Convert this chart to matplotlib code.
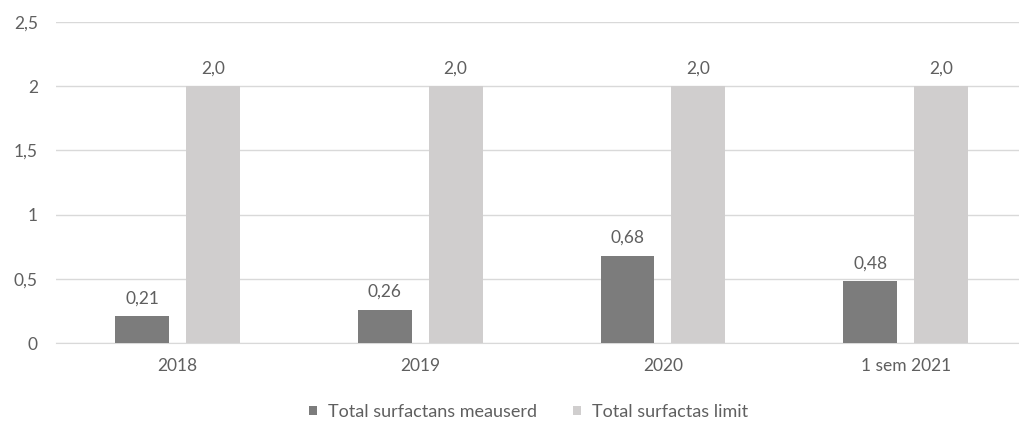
import matplotlib
matplotlib.use("Agg")
import matplotlib.pyplot as plt
import numpy as np

categories = ["2018", "2019", "2020", "1 sem 2021"]
measured = [0.21, 0.26, 0.68, 0.48]
limit = [2.0, 2.0, 2.0, 2.0]
series_names = ["Total surfactans meauserd", "Total surfactas limit"]
y_ticks = [0, 0.5, 1, 1.5, 2, 2.5]
y_tick_labels = ["0", "0,5", "1", "1,5", "2", "2,5"]

plt.rcParams["font.family"] = ["Lato", "DejaVu Sans"]
text_color = "#5f5f5f"

fig = plt.figure(figsize=(10.19, 4.23), dpi=100)
# the plot area runs a little past the right edge of the canvas
ax = fig.add_axes([0.055, 0.189, 0.953, 0.759])

x = np.arange(len(categories))
width = 0.222
offset = 0.146
dark = "#7c7c7c"
light = "#d0cece"

b1 = ax.bar(x - offset, measured, width, color=dark, label=series_names[0], zorder=3)
b2 = ax.bar(x + offset, limit, width, color=light, label=series_names[1], zorder=3)

for bars, vals, fmt in ((b1, measured, "{:.2f}"), (b2, limit, "{:.1f}")):
    for rect, v in zip(bars, vals):
        ax.annotate(fmt.format(v).replace(".", ","),
                    xy=(rect.get_x() + rect.get_width() / 2, v),
                    xytext=(0, 7), textcoords="offset points",
                    ha="center", va="bottom", fontsize=12.5, color=text_color)

ax.set_xlim(-0.5, len(categories) - 0.5)
ax.set_ylim(0, 2.5)
ax.set_yticks(y_ticks)
ax.set_yticklabels(y_tick_labels)
ax.set_xticks(x)
ax.set_xticklabels(categories)
ax.tick_params(axis="both", length=0, labelsize=12.5, labelcolor=text_color)
ax.tick_params(axis="x", pad=11)
ax.tick_params(axis="y", pad=13)

ax.yaxis.grid(True, color="#d9d9d9", linewidth=1, zorder=0)
for s in ("top", "right", "left"):
    ax.spines[s].set_visible(False)
ax.spines["bottom"].set_color("#d9d9d9")

fig.legend(handles=[b1, b2], labels=series_names, loc="center",
           bbox_to_anchor=(0.519, 0.026), ncol=2, frameon=False,
           fontsize=13, labelcolor=text_color, handlelength=0.45,
           handleheight=0.45, handletextpad=0.6, columnspacing=2.0)

fig.savefig("out.png", dpi=100, facecolor="white")
